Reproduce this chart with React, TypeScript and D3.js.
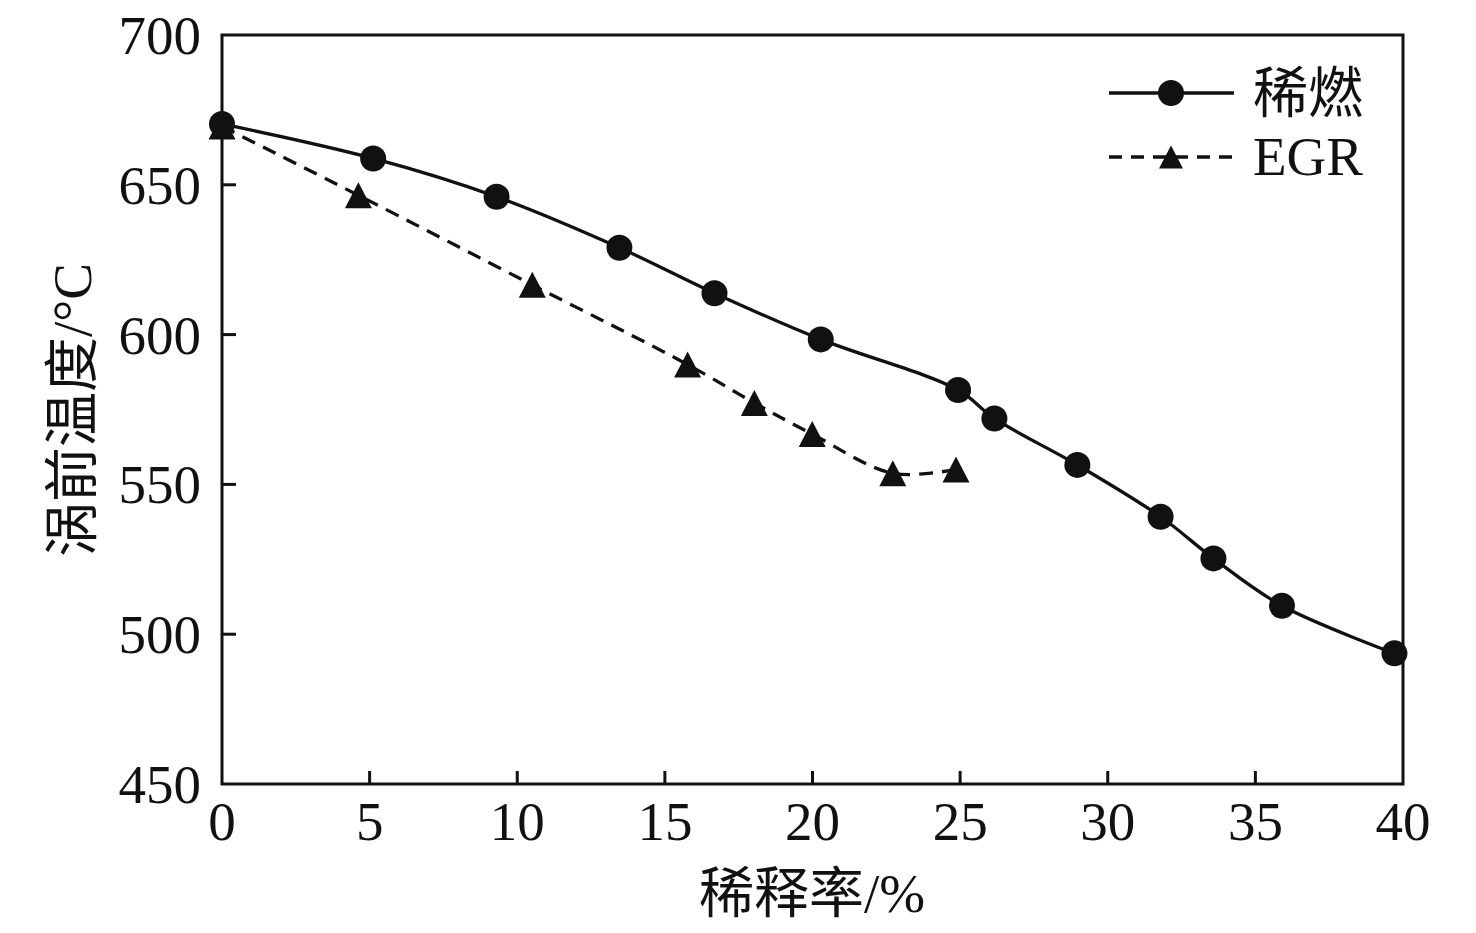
import React from "react";
import * as d3 from "d3";

const leanX = [0, 5.12, 9.3, 13.46, 16.68, 20.28, 24.93, 26.16, 28.97, 31.79, 33.58, 35.9, 39.71];
const leanY = [670.3, 658.8, 646.0, 629.0, 613.8, 598.4, 581.5, 572.0, 556.5, 539.2, 525.3, 509.5, 493.6];
const egrX = [0, 4.62, 10.51, 15.77, 18.03, 19.99, 22.72, 24.86];
const egrY = [669.5, 646.5, 616.6, 590.0, 577.2, 566.8, 553.7, 555.0];
const xTicks = [0, 5, 10, 15, 20, 25, 30, 35, 40];
const yTicks = [450, 500, 550, 600, 650, 700];
const seriesNames = ["稀燃", "EGR"];
const xTitle = "稀释率/%";
const yTitle = "涡前温度/°C";

const W = 1476, H = 933;
const L = 222, R = 1403, T = 35, B = 784;
const INK = "#111";
const FONT = "'Liberation Serif', 'Times New Roman', 'Noto Sans CJK SC', serif";
const SW = 3.3;
const DASH = "14 9";

function triPath(w: number, h: number) {
  const p = d3.path();
  p.moveTo(0, -h / 2);
  p.lineTo(w / 2, h / 2);
  p.lineTo(-w / 2, h / 2);
  p.closePath();
  return p.toString();
}

export default function App() {
  const x = d3.scaleLinear().domain([0, 40]).range([L, R]);
  const y = d3.scaleLinear().domain([450, 700]).range([B, T]);
  const line = d3
    .line<[number, number]>()
    .x((d) => x(d[0]))
    .y((d) => y(d[1]))
    .curve(d3.curveCatmullRom.alpha(0.5));
  const lean: [number, number][] = leanX.map((v, i) => [v, leanY[i]]);
  const egr: [number, number][] = egrX.map((v, i) => [v, egrY[i]]);
  const tri = triPath(27, 26);
  const triSmall = triPath(24, 23);

  return (
    <svg width={W} height={H} style={{ position: "absolute", left: 0, top: 0, background: "#fff" }}>
      <rect x={0} y={0} width={W} height={H} fill="#fff" />
      {/* series */}
      <path d={line(egr) || ""} fill="none" stroke={INK} strokeWidth={SW} strokeDasharray={DASH} />
      <path d={line(lean) || ""} fill="none" stroke={INK} strokeWidth={SW} />
      {egr.map((d, i) => (
        <path key={"t" + i} d={tri} transform={`translate(${x(d[0])},${y(d[1])})`} fill={INK} />
      ))}
      {lean.map((d, i) => (
        <circle key={"c" + i} cx={x(d[0])} cy={y(d[1])} r={13} fill={INK} />
      ))}
      {/* frame */}
      <rect x={L} y={T} width={R - L} height={B - T} fill="none" stroke={INK} strokeWidth={3} />
      {/* ticks */}
      {xTicks.map((t) => (
        <g key={"x" + t}>
          {t > 0 && t < 40 && <line x1={x(t)} x2={x(t)} y1={B} y2={B - 13} stroke={INK} strokeWidth={3} />}
          <text x={x(t)} y={840} textAnchor="middle" fontFamily={FONT} fontSize={55} fill={INK}>
            {t}
          </text>
        </g>
      ))}
      {yTicks.map((t) => (
        <g key={"y" + t}>
          {t > 450 && t < 700 && <line x1={L} x2={L + 14} y1={y(t)} y2={y(t)} stroke={INK} strokeWidth={3} />}
          <text x={201} y={y(t) + 19} textAnchor="end" fontFamily={FONT} fontSize={55} fill={INK}>
            {t}
          </text>
        </g>
      ))}
      {/* axis titles */}
      <text x={812} y={912} textAnchor="middle" fontFamily={FONT} fontSize={55} fill={INK}>
        {xTitle}
      </text>
      <text
        transform={`translate(91,410) rotate(-90)`}
        textAnchor="middle"
        fontFamily={FONT}
        fontSize={55}
        fill={INK}
      >
        {yTitle}
      </text>
      {/* legend */}
      <g>
        <line x1={1109} x2={1234} y1={93} y2={93} stroke={INK} strokeWidth={SW} />
        <circle cx={1171} cy={93} r={13} fill={INK} />
        <text x={1253} y={112} fontFamily={FONT} fontSize={55} fill={INK}>
          {seriesNames[0]}
        </text>
        <line x1={1109} x2={1234} y1={157} y2={157} stroke={INK} strokeWidth={SW} strokeDasharray="13 9" />
        <path d={triSmall} transform="translate(1171,157)" fill={INK} />
        <text x={1253} y={175} fontFamily={FONT} fontSize={55} fill={INK}>
          {seriesNames[1]}
        </text>
      </g>
    </svg>
  );
}
